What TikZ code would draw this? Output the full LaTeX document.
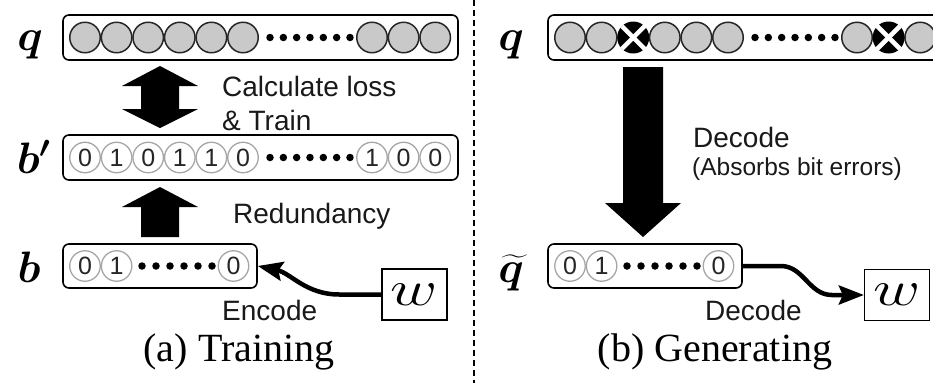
\RequirePackage{fix-cm}
\documentclass[tikz,border=0pt]{standalone}
\usepackage{amsmath}
\usepackage{graphicx}
\usepackage{fontspec}
\setmainfont{Liberation Serif}
\setsansfont{Liberation Sans}
\usetikzlibrary{arrows.meta}
\begin{document}
\begin{tikzpicture}[x=1pt,y=-1pt,
  bar/.style={draw, line width=1.6pt, rounded corners=6pt, inner sep=0pt},
  qc/.style={circle, draw=black!85, fill=black!21, line width=1.5pt, minimum size=30.5pt, inner sep=0pt},
  bc/.style={circle, draw=black!35, fill=white, line width=1.3pt, minimum size=30.5pt, inner sep=0pt,
     font=\sffamily\fontsize{25}{25}\selectfont, text=black!85},
  xc/.style={circle, fill=black, minimum size=32pt, inner sep=0pt},
  dot/.style={circle, fill=black, minimum size=7.5pt, inner sep=0pt},
  lbl/.style={font=\sffamily\fontsize{28}{30}\selectfont, anchor=base west, inner sep=0pt, text=black!90},
  small/.style={font=\sffamily\fontsize{24.5}{26}\selectfont, anchor=base west, inner sep=0pt, text=black!90},
  capt/.style={font=\fontsize{40}{44}\selectfont, anchor=base, inner sep=0pt},
  mlab/.style={font=\fontsize{44}{48}\selectfont, anchor=base, inner sep=0pt},
  wbox/.style={draw, line width=1.3pt, minimum width=65pt, minimum height=51pt, inner sep=0pt,
     font=\fontsize{50}{50}\selectfont},
  conn/.style={line width=4.5pt, -{Stealth[length=25pt,width=19pt,inset=4pt]}},
  divider/.style={line width=2pt, dash pattern=on 6pt off 4pt}
]
\useasboundingbox (0,0) rectangle (933,383);
\clip (0,0) rectangle (933,383);

% ---------------- (a) Training ----------------
% q bar
\node[bar, minimum width=395pt, minimum height=45pt] (qbarL) at (260.5,37.5) {};
\foreach \i/\x in {1/85,2/116.6,3/148.2,4/179.8,5/211.4,6/243,7/372,8/403.6,9/435.2}
  \node[qc] (lq\i) at (\x,37.5) {};
\foreach \k in {0,...,6}
  \node[dot] (lqd\k) at ({270+\k*13.33},37.5) {};

% b' bar
\node[bar, minimum width=395pt, minimum height=45pt] (bpbar) at (260.5,157.5) {};
\foreach \i/\x/\d in {1/85/0,2/116.6/1,3/148.2/0,4/179.8/1,5/211.4/1,6/243/0,7/372/1,8/403.6/0,9/435.2/0}
  \node[bc] (lbp\i) at (\x,157.5) {\d};
\foreach \k in {0,...,6}
  \node[dot] (lbpd\k) at ({270+\k*13.33},157.5) {};

% b bar
\node[bar, minimum width=194pt, minimum height=44pt] (bbar) at (160,266) {};
\foreach \i/\x/\d in {1/85/0,2/116.6/1,3/233.5/0}
  \node[bc] (lb\i) at (\x,266) {\d};
\foreach \k in {0,...,5}
  \node[dot] (lbd\k) at ({142+\k*14},266) {};

% labels
\node[mlab] (qL) at (30,50) {$\boldsymbol{q}$};
\node[mlab] (bpL) at (34,173) {$\boldsymbol{b'}$};
\node[mlab] (bL) at (29,282) {$\boldsymbol{b}$};

% double arrow
\fill (160,66) -- (198,86) -- (179,86) -- (179,109) -- (198,109) -- (160,128)
   -- (122,109) -- (141,109) -- (141,86) -- (122,86) -- cycle;
\node[lbl] (calc) at (222,96) {Calculate loss};
\node[lbl] (train) at (222,130) {\& Train};

% redundancy arrow
\fill (160,187) -- (198,207) -- (179,207) -- (179,237) -- (141,237) -- (141,207) -- (122,207) -- cycle;
\node[lbl] (redund) at (233,223) {Redundancy};

% w box and encode
\node[wbox] (wL) at (414.5,294.5) {\scalebox{1.3}[1]{$w$}};
\draw[conn] (wL.west) -- ++(-42,0) to[out=180,in=-12] (bbar.east);
\node[lbl] (enc) at (222,320) {Encode};

\node[capt] (capA) at (239,361) {(a) Training};

% divider
\coordinate (dTop) at (474,0);
\coordinate (dBot) at (474,383);
\draw[divider] (dTop) -- (dBot);

% ---------------- (b) Generating ----------------
\node[bar, minimum width=395pt, minimum height=45pt] (qbarR) at (745.5,37.5) {};
\foreach \i/\x in {1/570,2/601.6,4/664.8,5/696.4,6/728,7/857,9/920.2}
  \node[qc] (rq\i) at (\x,37.5) {};
\foreach \i/\x in {3/633.2,8/888.6}{
  \node[xc] (rq\i) at (\x,37.5) {};
  \draw[white, line width=4.5pt] (rq\i.north west) -- (rq\i.south east);
  \draw[white, line width=4.5pt] (rq\i.north east) -- (rq\i.south west);
}
\foreach \k in {0,...,6}
  \node[dot] (rqd\k) at ({755+\k*13.33},37.5) {};

\node[mlab] (qR) at (511,50) {$\boldsymbol{q}$};

% decode arrow (big)
\fill (623,67) -- (663,67) -- (663,203) -- (681,203) -- (643,237) -- (605,203) -- (623,203) -- cycle;
\node[lbl] (dec1) at (693,147) {Decode};
\node[small] (absorb) at (692,175) {(Absorbs bit errors)};

% q tilde bar
\node[bar, minimum width=194pt, minimum height=44pt] (qtbar) at (645,266) {};
\foreach \i/\x/\d in {1/570/0,2/601.6/1,3/718.5/0}
  \node[bc] (rb\i) at (\x,266) {\d};
\foreach \k in {0,...,5}
  \node[dot] (rbd\k) at ({627+\k*14},266) {};

\node[mlab] (qtR) at (511,282) {$\boldsymbol{\widetilde{q}}$};

% w box and decode
\node[wbox] (wR) at (897,295) {\scalebox{1.3}[1]{$w$}};
\draw[conn] (qtbar.east) -- ++(38,0) to[out=0,in=180] ([xshift=-32pt]wR.west) -- (wR.west);
\node[lbl] (dec2) at (705,320) {Decode};

\node[capt] (capB) at (715,361) {(b) Generating};
\end{tikzpicture}
\end{document}
